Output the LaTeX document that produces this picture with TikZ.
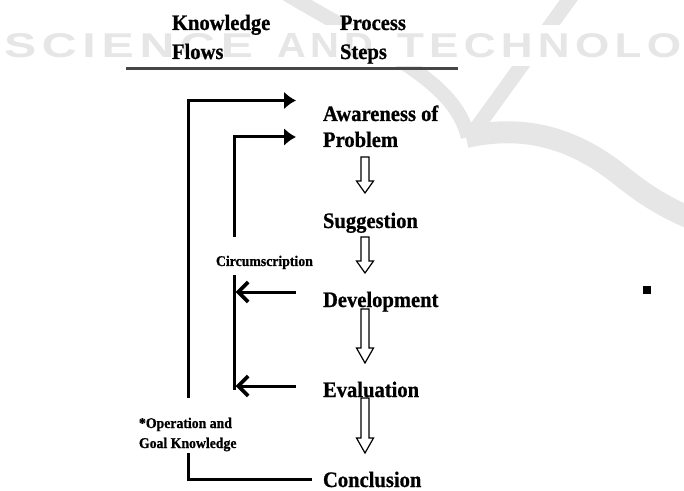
\documentclass[tikz,border=0pt]{standalone}
\usepackage{fontspec}
\usepackage{graphicx}
\usetikzlibrary{arrows.meta}
\newfontfamily\tnr[FakeStretch=0.93,BoldFeatures={FakeBold=0.8}]{Liberation Serif}
\newfontfamily\wmsans{Liberation Sans}
\definecolor{wmgray}{RGB}{230,230,230}
\definecolor{rulegray}{RGB}{70,70,70}

% hollow downward block arrow: centre x, top y, tip y, head length
\newcommand\hollowdown[4]{%
  \draw[hollow] (#1-4,#2) -- (#1+4,#2) -- (#1+4,#3-#4) -- (#1+8.5,#3-#4)
    -- (#1,#3) -- (#1-8.5,#3-#4) -- (#1-4,#3-#4) -- cycle;}

\begin{document}
\begin{tikzpicture}[x=0.75pt,y=-0.75pt,
  every node/.style={inner sep=0pt, outer sep=0pt},
  steplabel/.style={font=\tnr\bfseries\fontsize{16.6}{19}\selectfont, anchor=base west},
  headlabel/.style={steplabel},
  smalllabel/.style={font=\tnr\bfseries\fontsize{11.1}{13}\selectfont, anchor=base west},
  flow/.style={line width=2.25pt, line join=miter},
  intoarrow/.style={flow, -{Latex[length=9pt,width=13.5pt]}},
  backarrow/.style={flow, -{Straight Barb[length=7.5pt,width=15pt,line width=2.8pt]}},
  hollow/.style={draw=black, fill=white, line width=0.9pt, line join=miter},
  wmband/.style={draw=wmgray, line cap=butt},
  wmword/.style={anchor=base west, text=wmgray},
]
\useasboundingbox (0,0) rectangle (684,491);

% background emblem
\draw[wmband, line width=11pt] (280,-10) .. controls (380,50) and (455,80) .. (468,137);
\draw[wmband, line width=11pt] (576,-10) -- (470,137);
\draw[wmband, line width=16.5pt] (466,137) .. controls (520,125) and (570,135) .. (620,175)
  .. controls (645,195) and (665,208) .. (700,222);
\fill[white] (0,25) rectangle (684,66);
\node[wmword] (wmS) at (4,58) {\resizebox{186.75pt}{18pt}{\wmsans\bfseries
  S\kern.12em C\kern.12em I\kern.12em E\kern.12em N\kern.12em C\kern.12em E}};
\node[wmword] (wmA) at (277,58) {\resizebox{72pt}{18pt}{\wmsans\bfseries
  A\kern.12em N\kern.12em D}};
\node[wmword] (wmT) at (397,58) {\resizebox{213pt}{18pt}{\wmsans\bfseries
  T\kern.12em E\kern.12em C\kern.12em H\kern.12em N\kern.12em O\kern.12em L\kern.12em O}};

% column headings
\node[headlabel] (kn) at (172,30) {Knowledge};
\node[headlabel] (fl) at (172,59) {Flows};
\node[headlabel] (pr) at (340,30) {Process};
\node[headlabel] (st) at (340,59) {Steps};
\coordinate (ruleL) at (126,68.5);
\coordinate (ruleR) at (458,68.5);
\draw[rulegray, line width=1.6pt] (ruleL) -- (ruleR);

% process steps
\node[steplabel] (aw) at (323,121) {Awareness of};
\node[steplabel] (pb) at (323,147) {Problem};
\node[steplabel] (sg) at (323,228) {Suggestion};
\node[steplabel] (dv) at (323,307) {Development};
\node[steplabel] (ev) at (323,397) {Evaluation};
\node[steplabel] (cc) at (323,487) {Conclusion};

% step-to-step block arrows
\hollowdown{365}{157}{193}{12}
\hollowdown{365}{237}{273}{12}
\hollowdown{365}{309}{363}{15}
\hollowdown{365}{398}{453}{15}

% knowledge flow labels
\node[smalllabel] (circ) at (216,266) {Circumscription};
\node[smalllabel] (op1) at (139,428) {*Operation and};
\node[smalllabel] (op2) at (139,448) {Goal Knowledge};

% knowledge flow connectors
\coordinate (oBot) at (188,398);
\coordinate (awIn) at (296,100.5);
\coordinate (iMid) at (234,237);
\coordinate (pbIn) at (296,137);
\coordinate (iLow) at (234,275);
\coordinate (iBot) at (234,390);
\coordinate (dvOut) at (296,292);
\coordinate (dvIn) at (235.5,292);
\coordinate (evOut) at (296,386);
\coordinate (evIn) at (235.5,386);
\coordinate (cStart) at (188,453);
\coordinate (cEnd) at (312,479);

\draw[intoarrow] (oBot) |- (awIn);
\draw[intoarrow] (iMid) |- (pbIn);
\draw[flow] (iLow) -- (iBot);
\draw[backarrow] (dvOut) -- (dvIn);
\draw[backarrow] (evOut) -- (evIn);
\draw[flow] (cStart) |- (cEnd);

% marker
\fill (643,286) rectangle (651,294);
\end{tikzpicture}
\end{document}
